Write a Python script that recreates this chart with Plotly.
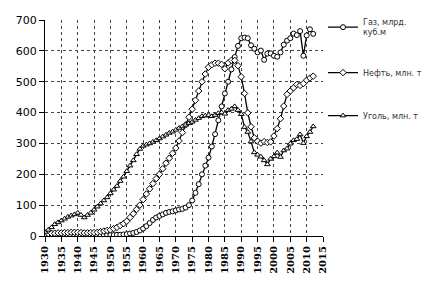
import plotly.graph_objects as go

years = list(range(1930, 2013))

coal = [13, 20, 28, 38, 44, 50, 56, 62, 66, 70,
        75, 68, 60, 68, 75, 85, 95, 105, 115, 125,
        138, 150, 162, 178, 192, 210, 228, 245, 265, 282,
        292, 296, 300, 305, 310, 316, 322, 328, 334, 338,
        344, 350, 355, 360, 365, 370, 376, 382, 388, 390,
        392, 388, 392, 398, 400, 396, 408, 412, 420, 408,
        395, 353, 337, 306, 271, 263, 257, 245, 232, 250,
        258, 270, 256, 277, 283, 299, 310, 314, 329, 301,
        323, 337, 355]

oil = [8, 8, 9, 9, 10, 10, 11, 11, 12, 12,
       12, 11, 10, 10, 11, 11, 12, 14, 16, 18,
       20, 24, 28, 34, 40, 48, 60, 72, 86, 100,
       118, 136, 153, 170, 186, 200, 218, 236, 252, 268,
       285, 308, 335, 360, 385, 411, 440, 470, 500, 525,
       547, 555, 560, 560, 556, 542, 561, 569, 569, 552,
       516, 462, 399, 354, 318, 307, 301, 306, 303, 305,
       324, 348, 380, 421, 459, 470, 480, 491, 488, 494,
       505, 512, 518]

gas = [1, 1, 1, 1, 1, 1, 1, 2, 2, 2,
       2, 2, 2, 2, 2, 2, 3, 3, 3, 3,
       3, 3, 4, 4, 5, 6, 8, 10, 13, 18,
       24, 32, 42, 52, 60, 65, 70, 75, 78, 80,
       83, 86, 88, 92, 100, 115, 140, 168, 200, 228,
       254, 290, 330, 375, 420, 462, 500, 540, 580, 616,
       641, 643, 641, 618, 607, 595, 601, 571, 591, 592,
       584, 581, 595, 620, 633, 641, 656, 651, 664, 584,
       650, 670, 655]

series_names = ["Газ, млрд.<br>куб.м", "Нефть, млн. т", "Уголь, млн. т"]
x_ticks = list(range(1930, 2016, 5))
y_ticks = list(range(0, 701, 100))

fig = go.Figure()
symbols = ["circle", "diamond", "triangle-up"]
for i, (name, vals, sym) in enumerate(zip(series_names, [gas, oil, coal], symbols)):
    fig.add_trace(go.Scatter(
        x=years, y=vals, name=name, mode="lines+markers",
        legendgroup=str(i),
        line=dict(color="black", width=1.3),
        marker=dict(symbol=sym, size=5, color="white",
                    line=dict(color="black", width=1)),
    ))

fig.update_layout(
    width=437, height=283,
    margin=dict(l=45, r=113, t=10, b=47),
    paper_bgcolor="white", plot_bgcolor="white",
    showlegend=True,
    legend=dict(x=1.0, y=1.045, xanchor="left", yanchor="top",
                font=dict(family="DejaVu Sans", size=8, color="#333"),
                tracegroupgap=24, itemwidth=30,
                bgcolor="rgba(0,0,0,0)"),
)
fig.update_xaxes(
    range=[1930, 2015], tickvals=x_ticks,
    ticktext=["<b>%d</b>" % t for t in x_ticks],
    tickangle=-90, automargin=False,
    tickfont=dict(family="DejaVu Serif", size=10, color="black"),
    showline=True, linecolor="black", linewidth=1,
    ticks="outside", ticklen=5, tickcolor="black",
    showgrid=True, gridcolor="#444", gridwidth=1, griddash="dot",
    zeroline=False,
)
fig.update_yaxes(
    range=[0, 700], tickvals=y_ticks, automargin=False,
    tickfont=dict(family="DejaVu Sans", size=11, color="black"),
    showline=True, linecolor="black", linewidth=1,
    ticks="outside", ticklen=5, tickcolor="black",
    showgrid=True, gridcolor="#444", gridwidth=1, griddash="dot",
    zeroline=False,
)

fig.write_html("out.html")
